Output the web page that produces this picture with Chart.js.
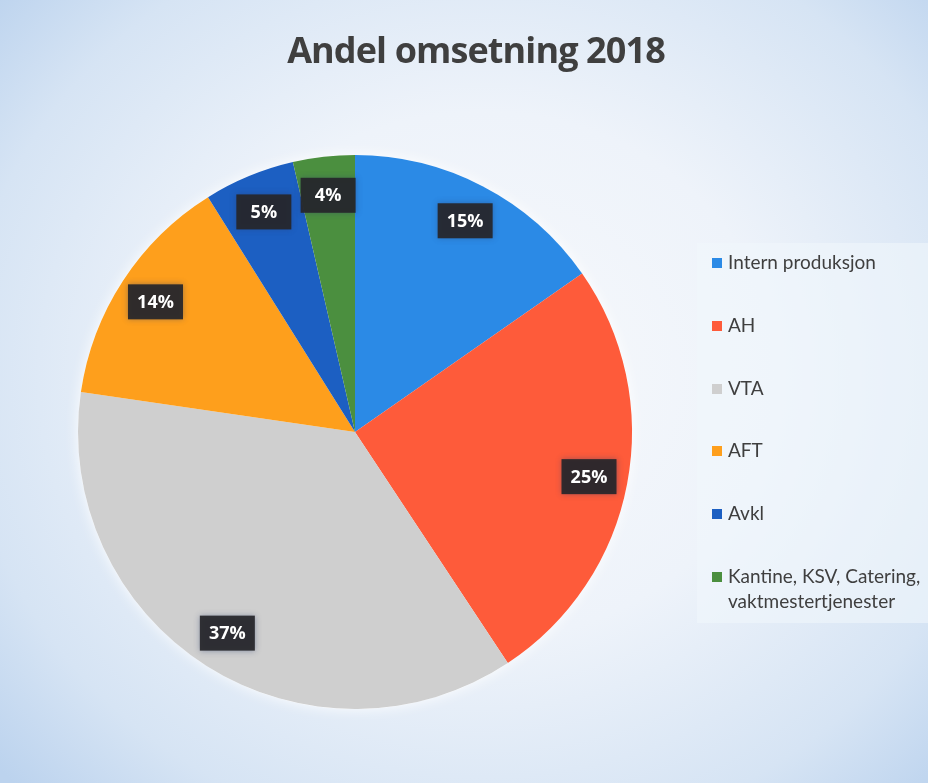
<!DOCTYPE html>
<html>
<head>
<meta charset="utf-8">
<script src="https://cdn.jsdelivr.net/npm/chart.js@4.4.1/dist/chart.umd.min.js"></script>
<style>
  html, body { margin: 0; padding: 0; }
  body {
    width: 928px; height: 783px; overflow: hidden; position: relative;
    background: radial-gradient(ellipse 70% 75% at 52% 48%, #f7f9fc 0%, #eef3fa 45%, #d6e4f4 80%, #bcd3ee 100%);
    font-family: Lato, "Open Sans", sans-serif;
  }
  #wrap { position: absolute; left: 0; top: 0; width: 928px; height: 783px; }
  #title {
    position: absolute; left: 0; width: 952px; top: 25px; text-align: center;
    font-family: "Open Sans", sans-serif; font-weight: 700; font-size: 36px; color: #3f3f3f;
    letter-spacing: -0.9px; line-height: 50px;
  }
  #legend {
    position: absolute; left: 697px; top: 243px; width: 231px; height: 380px;
    background: rgba(240, 246, 252, 0.6);
  }
  .item { position: absolute; left: 15px; font-size: 19px; color: #3f3f3f; line-height: 25px; white-space: nowrap; }
  .item i { position: absolute; left: 0; top: 9px; width: 10px; height: 10px; }
  .item span { display: block; padding-left: 16px; }
</style>
</head>
<body>
<div id="wrap"><canvas id="pie-chart" width="928" height="783"></canvas></div>
<div id="title">Andel omsetning 2018</div>
<div id="legend"></div>
<script>
// Andel omsetning 2018 (prosent, lest av sektorene)
const categories = ['Intern produksjon', 'AH', 'VTA', 'AFT', 'Avkl', 'Kantine, KSV, Catering,\nvaktmestertjenester'];
const shares = [15.3, 25.4, 36.6, 13.8, 5.3, 3.6];
const colors = ['#2b8ae6', '#fe5b3a', '#cfcfcf', '#fe9f1c', '#1c5fc2', '#4b8f3f'];

// legend built from the same arrays
const legendEl = document.getElementById('legend');
categories.forEach((name, i) => {
    const div = document.createElement('div');
    div.className = 'item';
    div.style.top = (6 + i * 62.8) + 'px';
    div.innerHTML = '<i style="background:' + colors[i] + '"></i><span>' + name.replace('\n', '<br>') + '</span>';
    legendEl.appendChild(div);
});

// soft light halo around the pie
const pieHalo = {
    id: 'pieHalo',
    beforeDatasetsDraw(chart) {
        const arc = chart.getDatasetMeta(0).data[0];
        if (!arc) return;
        const ctx = chart.ctx;
        ctx.save();
        ctx.shadowColor = 'rgba(255, 255, 255, 0.9)';
        ctx.shadowBlur = 14;
        ctx.fillStyle = '#ffffff';
        ctx.beginPath();
        ctx.arc(arc.x, arc.y, arc.outerRadius, 0, Math.PI * 2);
        ctx.fill();
        ctx.restore();
    }
};

// dark boxed percentage labels, like the Excel data callouts
const boxLabels = {
    id: 'boxLabels',
    afterDatasetsDraw(chart) {
        const ctx = chart.ctx;
        const meta = chart.getDatasetMeta(0);
        ctx.save();
        ctx.font = 'bold 18px "Open Sans", sans-serif';
        ctx.textAlign = 'center';
        ctx.textBaseline = 'middle';
        meta.data.forEach((arc, i) => {
            const mid = (arc.startAngle + arc.endAngle) / 2;
            const r = arc.outerRadius * 0.86;
            const x = arc.x + Math.cos(mid) * r;
            const y = arc.y + Math.sin(mid) * r;
            const w = 55, h = 35;
            ctx.shadowColor = 'rgba(40, 60, 110, 0.45)';
            ctx.shadowBlur = 6;
            ctx.fillStyle = 'rgba(38, 38, 42, 0.93)';
            ctx.fillRect(x - w / 2, y - h / 2, w, h);
            ctx.shadowBlur = 0;
            ctx.fillStyle = '#ffffff';
            ctx.fillText(Math.round(shares[i]) + '%', x, y + 1);
        });
        ctx.restore();
    }
};

new Chart(document.getElementById('pie-chart'), {
    type: 'pie',
    data: {
        labels: categories,
        datasets: [{
            data: shares,
            backgroundColor: colors,
            borderWidth: 0
        }]
    },
    options: {
        responsive: false,
        animation: false,
        layout: { padding: { left: 78, right: 296, top: 155, bottom: 74 } },
        plugins: {
            legend: { display: false },
            tooltip: { enabled: false }
        }
    },
    plugins: [pieHalo, boxLabels]
});
</script>
</body>
</html>
